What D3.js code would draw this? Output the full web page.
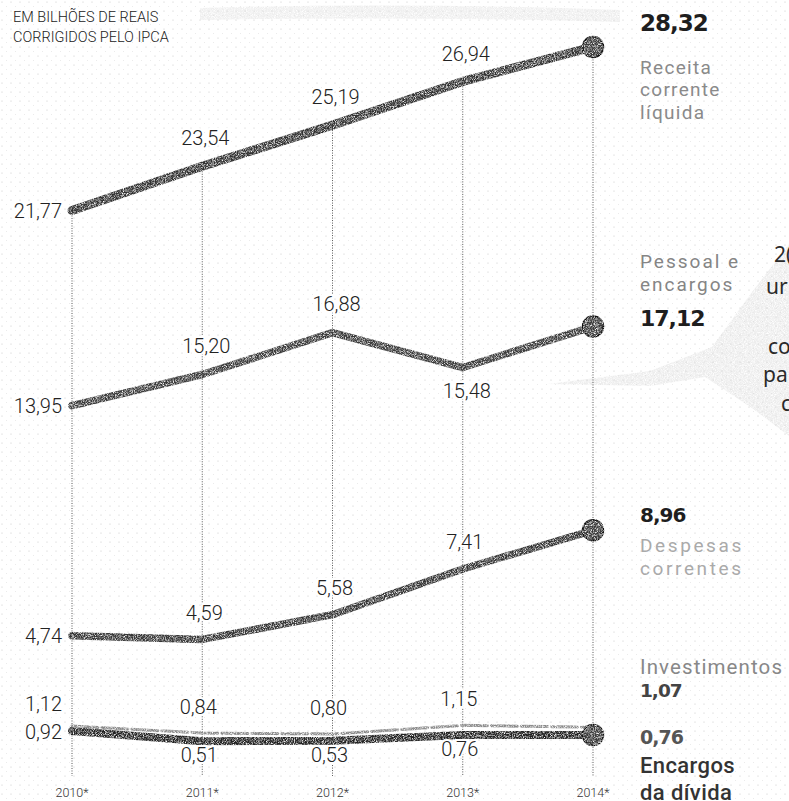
<!DOCTYPE html>
<html><head><meta charset="utf-8">
<script src="https://cdn.jsdelivr.net/npm/d3@7"></script>
<style>body{margin:0;background:#fff}</style>
</head><body><svg id="c" width="789" height="801"></svg>
<script>
// ---------- data ----------
const years = ["2010*", "2011*", "2012*", "2013*", "2014*"];
const receita = [21.77, 23.54, 25.19, 26.94, 28.32];
const pessoal = [13.95, 15.20, 16.88, 15.48, 17.12];
const despesas = [4.74, 4.59, 5.58, 7.41, 8.96];
const investimentos = [1.12, 0.84, 0.80, 1.15, 1.07];
const encargos = [0.92, 0.51, 0.53, 0.76, 0.76];
const titleLines = ["EM BILHÕES DE REAIS", "CORRIGIDOS PELO IPCA"];
const seriesNames = [["Receita", "corrente", "líquida"], ["Pessoal e", "encargos"], ["Despesas", "correntes"], ["Investimentos"], ["Encargos", "da dívida"]];
const sideFragments = ["2(", "ur", "co", "pa", "c"];

// ---------- layout ----------
const W = 789, H = 801;
const svg = d3.select("#c");
const x = d3.scalePoint().domain(years).range([72, 593]);
const y = d3.scaleLinear().domain([0, 30]).range([754, 5]);
const fmt = v => d3.format(".2f")(v).replace(".", ",");

const defs = svg.append("defs");
const pat = defs.append("pattern").attr("id", "dots").attr("width", 9).attr("height", 9).attr("patternUnits", "userSpaceOnUse");
pat.append("circle").attr("cx", 2).attr("cy", 2).attr("r", 0.55).attr("fill", "#c4c4c4");
pat.append("circle").attr("cx", 6.5).attr("cy", 6.5).attr("r", 0.45).attr("fill", "#d6d6d6");
const grain = defs.append("filter").attr("id", "grain").attr("filterUnits", "userSpaceOnUse")
  .attr("x", 0).attr("y", 0).attr("width", W).attr("height", H);
grain.append("feTurbulence").attr("type", "fractalNoise").attr("baseFrequency", 1.1)
  .attr("numOctaves", 2).attr("seed", 4).attr("result", "noise");
grain.append("feColorMatrix").attr("in", "noise").attr("type", "matrix")
  .attr("values", "0 0 0 0 0  0 0 0 0 0  0 0 0 0 0  0 0 0 2.4 -0.45").attr("result", "mask");
grain.append("feComposite").attr("in", "SourceGraphic").attr("in2", "mask").attr("operator", "in");

svg.append("rect").attr("width", W).attr("height", H).attr("fill", "#fff");
svg.append("rect").attr("width", W).attr("height", H).attr("fill", "url(#dots)");

// faint background artefacts (other graphic bleeding in at the right)
svg.append("path")
  .attr("d", "M548,384 L650,371 L712,347 L752,292 L789,244 L789,436 L752,408 L705,377 L650,386 Z")
  .attr("fill", "#d4d4d4").attr("opacity", 0.4).attr("filter", "url(#grain)");
svg.append("path")
  .attr("d", "M200,8 Q400,2 620,10 L620,22 Q400,16 200,20 Z")
  .attr("fill", "#dcdcdc").attr("opacity", 0.45).attr("filter", "url(#grain)");
const fragPos = [[774, 262], [766, 294], [768, 354], [763, 382], [781, 411]];
svg.selectAll("text.frag").data(sideFragments).join("text")
  .attr("class", "frag")
  .attr("x", (d, i) => fragPos[i][0]).attr("y", (d, i) => fragPos[i][1])
  .attr("font-family", "Noto Sans").attr("font-size", 21).attr("fill", "#2a2a2a")
  .text(d => d);

// title
svg.selectAll("text.title").data(titleLines).join("text")
  .attr("class", "title").attr("x", 13).attr("y", (d, i) => 22 + i * 20)
  .attr("font-family", "Roboto").attr("font-weight", 300).attr("font-size", 14.5).attr("fill", "#222")
  .text(d => d);

// series configuration
const series = [
  {vals: receita, w: 9, color: "#333", above: -28, left: 0, below: [], dx: 3, dot: true},
  {vals: pessoal, w: 7.5, color: "#3a3a3a", above: -29, left: 0, below: [3], belowDy: 23, dx: 4, dot: true},
  {vals: despesas, w: 7.5, color: "#353535", above: -27, left: 0, below: [], dx: 2, dot: true},
  {vals: investimentos, w: 3, color: "#8a8a8a", above: -26, left: -22, below: [], dx: -4, dot: false, dash: "26,4"},
  {vals: encargos, w: 8, color: "#222", above: 0, left: 1, below: [1, 2, 3], belowDy: 14, dx: -3, dot: true}
];

// gridlines
const gridTop = years.map((yr, i) => d3.min(series, s => y(s.vals[i])));
svg.selectAll("line.grid").data(years).join("line")
  .attr("class", "grid")
  .attr("x1", d => x(d)).attr("x2", d => x(d))
  .attr("y1", (d, i) => gridTop[i]).attr("y2", 776)
  .attr("stroke", "#555").attr("stroke-width", 1).attr("stroke-dasharray", "1,1.5");

// lines
const line = d3.line().x((d, i) => x(years[i])).y(d => y(d));
const lineG = svg.append("g").attr("filter", "url(#grain)");
series.slice().reverse().forEach(s => {
  lineG.append("path").datum(s.vals).attr("d", line)
    .attr("fill", "none").attr("stroke", s.color).attr("stroke-width", s.w)
    .attr("stroke-linecap", "round").attr("stroke-linejoin", "round")
    .attr("stroke-dasharray", s.dash || null);
});
// end dots
series.filter(s => s.dot).forEach(s => {
  lineG.append("circle").attr("cx", x(years[4])).attr("cy", y(s.vals[4])).attr("r", 10.5)
    .attr("fill", "#3a3a3a").attr("stroke", "#111").attr("stroke-width", 1.5);
});

// value labels
series.forEach(s => {
  s.vals.slice(0, 4).forEach((v, i) => {
    const t = svg.append("text")
      .attr("font-family", "Roboto").attr("font-weight", 300).attr("font-size", 20)
      .attr("fill", "#222").attr("stroke", "#fff").attr("stroke-width", 4)
      .attr("paint-order", "stroke").attr("dy", "0.36em").text(fmt(v));
    if (i === 0) {
      t.attr("x", x(years[0]) - 10).attr("y", y(v) + s.left).attr("text-anchor", "end");
    } else {
      const b = s.below.includes(i);
      t.attr("x", x(years[i]) + s.dx).attr("y", y(v) + (b ? s.belowDy : s.above)).attr("text-anchor", "middle");
    }
  });
});

// year axis labels
svg.selectAll("text.yr").data(years).join("text")
  .attr("class", "yr").attr("x", d => x(d)).attr("y", 797)
  .attr("text-anchor", "middle").attr("font-family", "Roboto").attr("font-weight", 300).attr("font-size", 12.5)
  .attr("fill", "#333").text(d => d);

// right-side labels
const RX = 640;
function big(txt, yy, size, col) {
  svg.append("text").attr("x", RX).attr("y", yy).attr("dy", "0.36em")
    .attr("font-family", "DejaVu Sans").attr("font-weight", "bold")
    .attr("font-size", size).attr("fill", col).attr("letter-spacing", -1).text(txt);
}
function names(lines, y0, step, col, size, ls, weight) {
  lines.forEach((l, i) => svg.append("text").attr("x", RX).attr("y", y0 + i * step).attr("dy", "0.36em")
    .attr("font-family", "Roboto").attr("font-weight", weight || 400).attr("font-size", size)
    .attr("letter-spacing", ls).attr("fill", col).text(l));
}
const yl = s => y(s[4]);
big(fmt(receita[4]), yl(receita) - 24, 23, "#1e1e1e");
names(seriesNames[0], yl(receita) + 20, 22.5, "#8a8a8a", 19, 1.3);
names(seriesNames[1], yl(pessoal) - 65, 23, "#858585", 19, 2);
big(fmt(pessoal[4]), yl(pessoal) - 8, 22, "#1e1e1e");
big(fmt(despesas[4]), yl(despesas) - 15, 20, "#1e1e1e");
names(seriesNames[2], yl(despesas) + 15, 23, "#aaaaaa", 19, 2.6);
names(seriesNames[3], yl(investimentos) - 61, 23, "#888", 20.5, 1.1);
big(fmt(investimentos[4]), yl(investimentos) - 37, 18.5, "#444");
big(fmt(encargos[4]), yl(encargos) + 2, 19, "#555");
names(seriesNames[4], yl(encargos) + 30, 27, "#333", 22, 0.4, 500);
</script></body></html>
